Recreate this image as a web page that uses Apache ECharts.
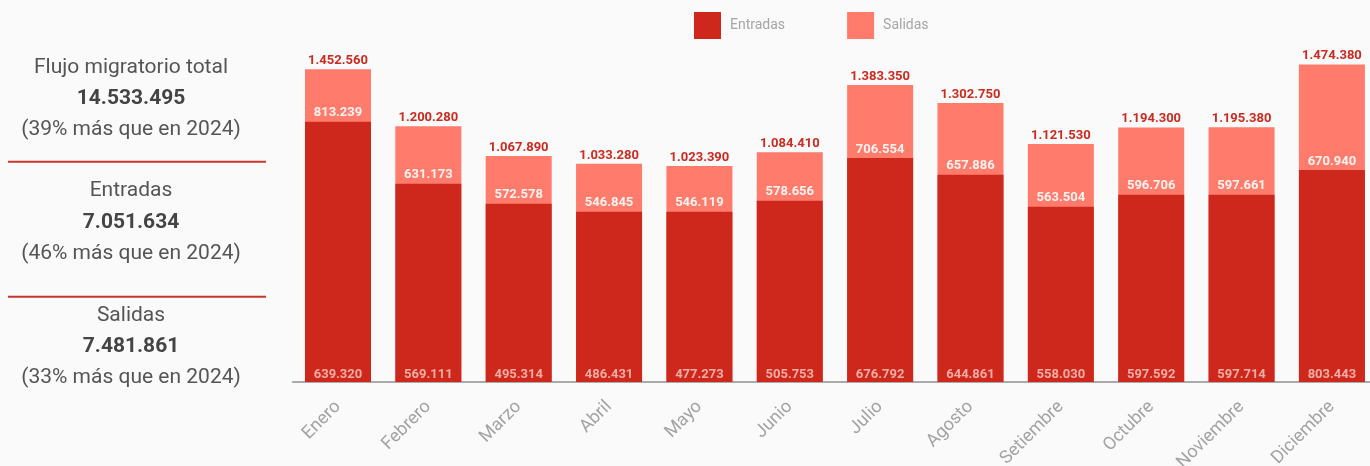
<!DOCTYPE html>
<html>
<head>
<meta charset="utf-8">
<script src="https://cdn.jsdelivr.net/npm/echarts@6/dist/echarts.min.js"></script>
<style>
html,body{margin:0;padding:0;background:#fafafa;}
#chart{width:1370px;height:466px;}
</style>
</head>
<body>
<div id="chart"></div>
<script>
// Categories
const meses = ['Enero','Febrero','Marzo','Abril','Mayo','Junio','Julio','Agosto','Setiembre','Octubre','Noviembre','Diciembre'];
// Values printed on the bars
const entradas = [639320,569111,495314,486431,477273,505753,676792,644861,558030,597592,597714,803443];
const salidas  = [813239,631173,572578,546845,546119,578656,706554,657886,563504,596706,597661,670940];
const totales  = [1452560,1200280,1067890,1033280,1023390,1084410,1383350,1302750,1121530,1194300,1195380,1474380];
// Height of the dark (Entradas) segment as drawn in the picture, read in axis units
const alturaEntradas = [1220200,945100,856300,820800,820800,869600,1059100,985000,843000,896200,896200,1005900];
// Summary panel
const resumenTitulos = ['Flujo migratorio total','Entradas','Salidas'];
const resumenValores = ['14.533.495','7.051.634','7.481.861'];
const resumenNotas = ['(39% más que en 2024)','(46% más que en 2024)','(33% más que en 2024)'];

const fmt = v => String(v).replace(/\B(?=(\d{3})+(?!\d))/g, '.');

const COL_DARK = '#ce281c';
const COL_LIGHT = '#ff7b6c';
const FONT = 'Roboto, "Noto Sans", sans-serif';

const chart = echarts.init(document.getElementById('chart'), null, {renderer:'canvas'});

// left panel
const panelX = 131;
const rows = [
  [67.5, 98.5, 129.5],
  [191, 222.5, 254],
  [315.5, 347, 377.5]
];
const graphics = [];
rows.forEach((r, i) => {
  graphics.push({type:'text', x: panelX, y: r[0], style:{text: resumenTitulos[i], fill:'#555', font:'21px ' + FONT, align:'center', verticalAlign:'middle'}});
  graphics.push({type:'text', x: panelX, y: r[1], style:{text: resumenValores[i], fill:'#444', font:'bold 21px ' + FONT, align:'center', verticalAlign:'middle'}});
  graphics.push({type:'text', x: panelX, y: r[2], style:{text: resumenNotas[i], fill:'#555', font:'21px ' + FONT, align:'center', verticalAlign:'middle'}});
});
graphics.push({type:'line', shape:{x1:8, y1:161.8, x2:266, y2:161.8}, style:{stroke:'#c9372c', lineWidth:2}});
graphics.push({type:'line', shape:{x1:8, y1:296.7, x2:266, y2:296.7}, style:{stroke:'#c9372c', lineWidth:2}});

const option = {
  backgroundColor:'#fafafa',
  animation:false,
  textStyle:{fontFamily:FONT},
  legend:{
    data:['Entradas','Salidas'],
    left:694, top:12, padding:0,
    icon:'rect', itemWidth:27, itemHeight:27, itemGap:62,
    textStyle:{fontSize:14, color:'#a6a6a6', padding:[0,0,0,4], fontFamily:FONT}
  },
  grid:{left:292.8, right:-7.1, top:40, bottom:84, containLabel:false, outerBoundsMode:'none'},
  xAxis:{
    type:'category', data:meses,
    axisLine:{lineStyle:{color:'#aaaaaa', width:2}},
    axisTick:{show:false},
    axisLabel:{rotate:45, fontSize:18, color:'#a3a3a3', margin:22, fontFamily:FONT, interval:0}
  },
  yAxis:{
    type:'value', min:65000, max:1582800, show:false,
    splitLine:{show:false}
  },
  series:[
    {
      name:'Salidas', type:'bar', data:totales, barWidth:66, barGap:'-100%', z:2,
      itemStyle:{color:COL_LIGHT},
      label:{show:true, position:'top', distance:2, formatter:p => fmt(totales[p.dataIndex]),
        color:'#cc2b20', fontWeight:'bold', fontSize:13, fontFamily:FONT}
    },
    {
      name:'Entradas', type:'bar', data:alturaEntradas, barWidth:66, barGap:'-100%', z:3,
      itemStyle:{color:COL_DARK},
      label:{show:true, position:'insideBottom', distance:1, formatter:p => fmt(entradas[p.dataIndex]),
        color:'#f7aca3', fontWeight:'bold', fontSize:13, fontFamily:FONT}
    },
    {
      name:'etiquetasSalidas', type:'bar', data:alturaEntradas, barWidth:66, barGap:'-100%', z:4,
      silent:true,
      itemStyle:{color:'rgba(0,0,0,0)'},
      label:{show:true, position:'top', distance:2, formatter:p => fmt(salidas[p.dataIndex]),
        color:'#fff3f0', fontWeight:'bold', fontSize:13, fontFamily:FONT}
    }
  ],
  graphic:graphics
};
chart.setOption(option);
</script>
</body>
</html>
